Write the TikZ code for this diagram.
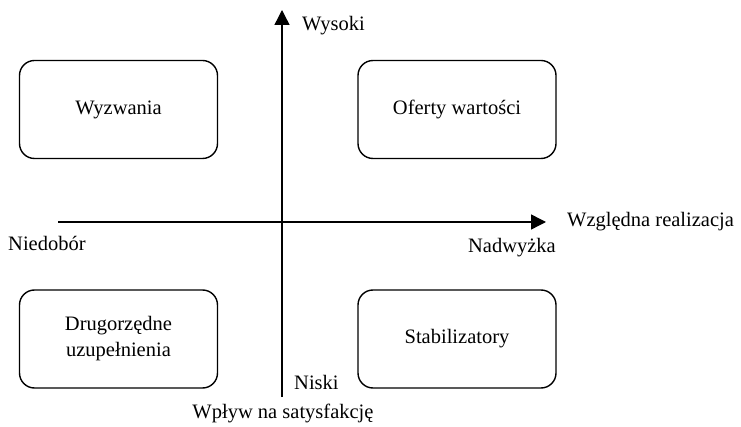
\documentclass[tikz,border=0pt]{standalone}
\usepackage{fontspec}
\setmainfont{Liberation Serif}
\usetikzlibrary{arrows.meta}
\begin{document}
\begin{tikzpicture}[x=1pt,y=-1pt,
  quad/.style={draw,line width=1.4pt,rounded corners=15pt,minimum width=198pt,minimum height=98pt,align=center,font=\fontsize{20.5}{26}\selectfont},
  lbl/.style={inner sep=0pt,font=\fontsize{20.5}{26}\selectfont},
  axis/.style={line width=1.4pt,-{Triangle[length=15pt,width=15pt]}}]
\useasboundingbox (0,0) rectangle (741,427);
\node[quad] (w) at (118.5,109.5) {Wyzwania};
\node[quad] (o) at (457,109.5) {Oferty wartości};
\node[quad] (d) at (118.5,339) {Drugorzędne\\uzupełnienia};
\node[quad] (s) at (457,339) {Stabilizatory};
\coordinate (vb) at (282,397);
\coordinate (vt) at (282,10);
\coordinate (hl) at (58,222);
\coordinate (hr) at (546,222);
\draw[axis] (vb) -- (vt);
\draw[axis] (hl) -- (hr);
\node[lbl,anchor=west] (wy) at (302,26) {Wysoki};
\node[lbl,anchor=west] (wr) at (567,222) {Względna realizacja};
\node[lbl,anchor=west] (ni) at (8,243) {Niedobór};
\node[lbl,anchor=east] (na) at (556,248) {Nadwyżka};
\node[lbl,anchor=west] (nk) at (294,382) {Niski};
\node[lbl] (wp) at (283,413) {Wpływ na satysfakcję};
\end{tikzpicture}
\end{document}
